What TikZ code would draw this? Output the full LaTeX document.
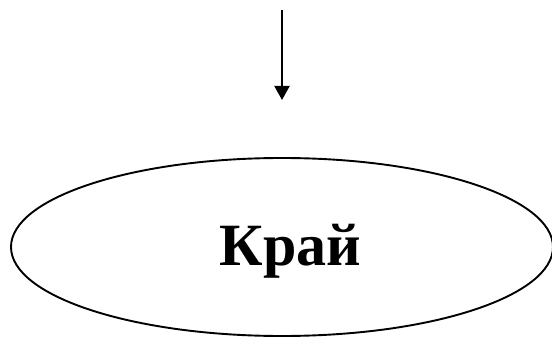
\documentclass[tikz,border=0pt]{standalone}
\usepackage{fontspec}
\setmainfont{Liberation Serif}
\usetikzlibrary{shapes.geometric,arrows.meta}
\tikzset{
  endbox/.style={ellipse, draw, line width=1.9pt, minimum width=542pt, minimum height=178pt, inner sep=0pt},
  flowarrow/.style={line width=2pt, -{Triangle[width=15pt,length=14pt]}},
  endlabel/.style={font=\fontsize{60pt}{70pt}\selectfont\bfseries, anchor=base, inner sep=0pt}
}
\begin{document}
\begin{tikzpicture}[x=1pt,y=1pt]
\useasboundingbox (0,0) rectangle (552,338);
\node[endbox] (end) at (282,91) {};
\node[endlabel] (lbl) at (290.5,73) {Край};
\coordinate (a0) at (282,328);
\coordinate (a1) at (282,238);
\draw[flowarrow] (a0) -- (a1);
\end{tikzpicture}
\end{document}
